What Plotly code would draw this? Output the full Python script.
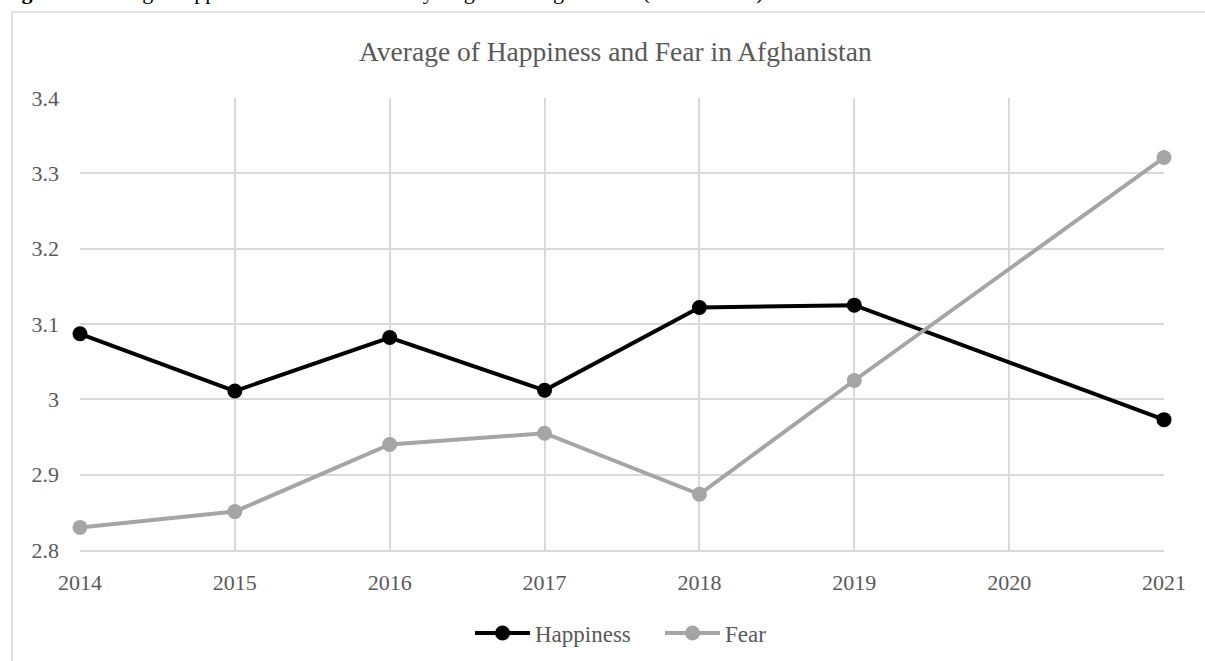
import plotly.graph_objects as go

years = ["2014", "2015", "2016", "2017", "2018", "2019", "2020", "2021"]
happiness = [3.087, 3.011, 3.082, 3.012, 3.122, 3.125, None, 2.973]
fear = [2.830, 2.851, 2.940, 2.955, 2.874, 3.025, None, 3.321]
y_tickvals = [2.8, 2.9, 3.0, 3.1, 3.2, 3.3, 3.4]
y_ticktext = ["2.8", "2.9", "3", "3.1", "3.2", "3.3", "3.4"]

title_text = "Average of Happiness and Fear in Afghanistan"
caption_text = "<b>Figure 1.</b> Average Happiness and Fear Levels by Region in Afghanistan (2014 - 2021)"

FONT = "Liberation Serif, Times New Roman, serif"
GRID = "#d9d9d9"
TXT = "#595959"

W, H = 1205, 661
L, R, T, B = 80, 41, 98, 111
pw, ph = W - L - R, H - T - B

fig = go.Figure()
fig.add_trace(go.Scatter(
    x=years, y=happiness, name="Happiness", mode="lines+markers",
    line=dict(color="#000000", width=4), marker=dict(size=15, color="#000000"),
    connectgaps=True, cliponaxis=False,
))
fig.add_trace(go.Scatter(
    x=years, y=fear, name="Fear", mode="lines+markers",
    line=dict(color="#a5a5a5", width=4), marker=dict(size=15, color="#a5a5a5"),
    connectgaps=True, cliponaxis=False,
))

def px_x(p):
    return (p - L) / pw

def px_y(p):
    return (H - B - p) / ph

# outer chart border
fig.add_shape(type="rect", xref="paper", yref="paper",
              x0=px_x(12), x1=px_x(W + 20), y0=px_y(H + 20), y1=px_y(12),
              line=dict(color=GRID, width=1.5), fillcolor="rgba(0,0,0,0)", layer="below")

fig.add_annotation(text=title_text, xref="paper", yref="paper",
                   x=px_x(615), y=px_y(52), xanchor="center", yanchor="middle",
                   showarrow=False, font=dict(family=FONT, size=27.5, color=TXT))

fig.add_annotation(text=caption_text, xref="paper", yref="paper",
                   x=px_x(0), y=px_y(-8), xanchor="left", yanchor="middle",
                   showarrow=False, font=dict(family=FONT, size=22, color="#000000"))

fig.update_layout(
    width=W, height=H,
    margin=dict(l=L, r=R, t=T, b=B, pad=0, autoexpand=False),
    paper_bgcolor="white", plot_bgcolor="white",
    font=dict(family=FONT, size=22, color=TXT),
    showlegend=True,
    legend=dict(orientation="h", x=px_x(470), y=px_y(633), xanchor="left", yanchor="middle",
                font=dict(family=FONT, size=23, color=TXT), itemwidth=55, entrywidth=120,
                bgcolor="rgba(0,0,0,0)"),
    xaxis=dict(type="category", range=[0, 7], showgrid=True, gridcolor=GRID, gridwidth=1.5,
               showline=True, linecolor=GRID, linewidth=1.5, ticks="", ticklabelstandoff=12,
               tickfont=dict(family=FONT, size=22, color=TXT), zeroline=False),
    yaxis=dict(range=[2.8, 3.4], tickvals=y_tickvals, ticktext=y_ticktext, showgrid=True,
               gridcolor=GRID, gridwidth=1.5, showline=False, ticks="", ticklabelstandoff=20,
               tickfont=dict(family=FONT, size=22, color=TXT), zeroline=False),
)

fig.write_html("out.html")
